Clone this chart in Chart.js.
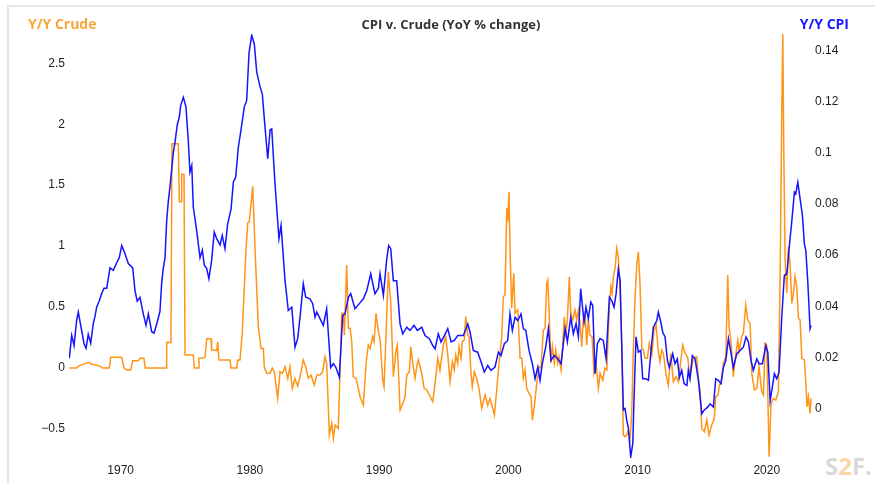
<!DOCTYPE html>
<html>
<head>
<meta charset="utf-8">
<script src="https://cdn.jsdelivr.net/npm/chart.js@4"></script>
<style>
    body { margin: 0; background: #fff; }
    canvas { display: block; }
</style>
</head>
<body>
<canvas id="cpi-crude-chart" width="875" height="484"></canvas>
<script>
// Y/Y CPI (right axis) - [year, change]
const cpiData = [
    [1966.02,0.0196],[1966.21,0.0286],[1966.39,0.0246],[1966.59,0.0344],[1966.72,0.0377],[1967.16,0.0254],[1967.32,0.0235],[1967.49,0.029],[1967.68,0.0255],[1967.88,0.0333],
    [1968.01,0.036],[1968.14,0.0396],[1968.34,0.042],[1968.53,0.045],[1968.71,0.047],[1968.92,0.047],[1969.17,0.055],[1969.43,0.054],[1969.69,0.057],[1969.89,0.059],
    [1970.08,0.0637],[1970.33,0.0606],[1970.59,0.0567],[1970.93,0.055],[1971.11,0.046],[1971.28,0.042],[1971.49,0.0435],[1971.75,0.037],[1971.96,0.0325],[1972.14,0.037],
    [1972.40,0.030],[1972.58,0.0295],[1972.83,0.0338],[1973.04,0.038],[1973.17,0.049],[1973.30,0.055],[1973.43,0.059],[1973.56,0.0735],[1973.68,0.0807],[1973.82,0.087],
    [1974.07,0.100],[1974.20,0.104],[1974.38,0.111],[1974.54,0.114],[1974.64,0.1185],[1974.85,0.1217],[1975.05,0.118],[1975.23,0.105],[1975.36,0.0924],[1975.50,0.095],
    [1975.62,0.0787],[1975.88,0.0696],[1976.14,0.059],[1976.32,0.062],[1976.47,0.056],[1976.66,0.0547],[1976.83,0.0507],[1977.04,0.058],[1977.24,0.069],[1977.43,0.0664],
    [1977.69,0.064],[1977.86,0.0677],[1978.07,0.0625],[1978.28,0.0722],[1978.54,0.078],[1978.72,0.0885],[1978.90,0.0905],[1979.10,0.102],[1979.31,0.109],[1979.57,0.118],
    [1979.75,0.1205],[1979.93,0.139],[1980.14,0.146],[1980.34,0.1426],[1980.53,0.1315],[1980.78,0.126],[1980.96,0.123],[1981.17,0.11],[1981.38,0.0977],[1981.56,0.109],
    [1981.69,0.1094],[1981.94,0.088],[1982.25,0.0664],[1982.41,0.0716],[1982.72,0.050],[1982.97,0.0383],[1983.24,0.0396],[1983.49,0.024],[1983.70,0.0273],[1983.88,0.0357],
    [1984.13,0.0488],[1984.32,0.0435],[1984.65,0.0429],[1984.86,0.041],[1985.04,0.0357],[1985.17,0.0377],[1985.37,0.0357],[1985.68,0.0325],[1985.94,0.039],[1986.25,0.016],
    [1986.46,0.0175],[1986.66,0.016],[1986.92,0.0122],[1987.18,0.0364],[1987.36,0.037],[1987.62,0.0435],[1987.80,0.0449],[1988.13,0.039],[1988.47,0.041],[1988.78,0.0429],
    [1989.04,0.046],[1989.35,0.0527],[1989.68,0.0449],[1989.94,0.047],[1990.07,0.0527],[1990.33,0.0442],[1990.59,0.0585],[1990.74,0.0637],[1990.90,0.0625],[1991.10,0.050],
    [1991.36,0.050],[1991.62,0.0331],[1991.83,0.0292],[1992.14,0.0318],[1992.39,0.0305],[1992.70,0.0325],[1992.96,0.0305],[1993.30,0.0318],[1993.55,0.0285],[1993.89,0.0273],
    [1994.15,0.0246],[1994.33,0.0233],[1994.58,0.0292],[1994.79,0.026],[1995.05,0.0285],[1995.31,0.0312],[1995.57,0.026],[1995.82,0.0266],[1996.08,0.0285],[1996.52,0.0285],
    [1996.86,0.0331],[1997.04,0.0298],[1997.29,0.0227],[1997.63,0.022],[1997.94,0.0175],[1998.14,0.0142],[1998.41,0.0168],[1998.66,0.0149],[1998.97,0.0162],[1999.23,0.022],
    [1999.43,0.0207],[1999.69,0.0253],[1999.95,0.0266],[2000.13,0.037],[2000.31,0.0305],[2000.52,0.0357],[2000.73,0.0344],[2000.98,0.037],[2001.16,0.0312],[2001.35,0.0305],
    [2001.60,0.0227],[2001.86,0.0175],[2002.07,0.0116],[2002.28,0.0162],[2002.45,0.011],[2002.63,0.0175],[2002.89,0.024],[2003.10,0.0312],[2003.30,0.0188],[2003.56,0.0207],
    [2003.82,0.0194],[2004.08,0.0175],[2004.39,0.0312],[2004.57,0.026],[2004.83,0.0357],[2005.03,0.0292],[2005.24,0.0331],[2005.42,0.028],[2005.60,0.0468],[2005.86,0.0338],
    [2006.01,0.0396],[2006.19,0.0351],[2006.38,0.0416],[2006.53,0.0403],[2006.71,0.0136],[2006.89,0.0253],[2007.10,0.0273],[2007.35,0.0266],[2007.56,0.0194],[2007.82,0.0435],
    [2008.00,0.0422],[2008.18,0.0396],[2008.34,0.0449],[2008.51,0.0546],[2008.65,0.050],[2008.78,0.024],[2008.90,-0.0006],[2009.03,0.0],[2009.16,-0.0045],[2009.29,-0.0078],
    [2009.47,-0.019],[2009.63,-0.0138],[2009.73,0.0044],[2009.88,0.028],[2010.06,0.022],[2010.25,0.0227],[2010.40,0.0116],[2010.66,0.0116],[2010.84,0.011],[2011.02,0.0214],
    [2011.22,0.0318],[2011.49,0.0344],[2011.61,0.0377],[2011.80,0.0338],[2011.95,0.0298],[2012.13,0.028],[2012.31,0.0188],[2012.46,0.016],[2012.72,0.0214],[2012.90,0.0175],
    [2013.08,0.0194],[2013.24,0.0122],[2013.42,0.0149],[2013.60,0.0097],[2013.82,0.009],[2013.93,0.0149],[2014.06,0.0116],[2014.24,0.0207],[2014.45,0.0194],[2014.71,0.011],
    [2014.97,-0.0021],[2015.17,-0.0006],[2015.43,0.0005],[2015.61,0.0018],[2015.87,0.0005],[2016.05,0.0116],[2016.25,0.011],[2016.46,0.0097],[2016.64,0.016],[2016.83,0.0188],
    [2017.03,0.0273],[2017.24,0.0214],[2017.41,0.016],[2017.68,0.0214],[2017.93,0.0227],[2018.19,0.024],[2018.40,0.028],[2018.58,0.026],[2018.78,0.0188],[2018.96,0.0149],
    [2019.23,0.0194],[2019.40,0.0175],[2019.66,0.0175],[2019.92,0.0246],[2020.08,0.022],[2020.26,0.003],[2020.43,0.0083],[2020.59,0.0136],[2020.77,0.0116],[2020.95,0.0142],
    [2021.16,0.0357],[2021.36,0.052],[2021.55,0.0527],[2021.80,0.0664],[2021.94,0.0735],[2022.14,0.0846],[2022.24,0.084],[2022.40,0.0885],[2022.58,0.082],[2022.76,0.0755],
    [2022.91,0.0644],[2023.02,0.0618],[2023.17,0.050],[2023.27,0.0396],[2023.35,0.0312],[2023.43,0.0325]
];

// Y/Y Crude (left axis) - [year, change]
const crudeData = [
    [1966.02,0],[1966.59,0],[1966.72,0.016],[1967.06,0.03],[1967.57,0.047],[1967.68,0.033],[1968.09,0.025],[1968.40,0.016],[1968.61,0],[1969.12,0],
    [1969.23,0.088],[1970.08,0.088],[1970.26,0],[1970.46,-0.016],[1970.77,-0.016],[1970.93,0.06],[1971.36,0.06],[1971.49,0.08],[1971.80,0.08],[1971.90,0],
    [1973.51,0],[1973.56,0.21],[1973.89,0.21],[1973.97,1.84],[1974.46,1.84],[1974.54,1.364],[1974.67,1.364],[1974.72,1.59],[1974.90,1.59],[1974.98,0.107],
    [1975.62,0.107],[1975.70,0],[1976.01,0],[1976.06,0.08],[1976.52,0.085],[1976.66,0.24],[1976.99,0.24],[1977.04,0.148],[1977.43,0.145],[1977.51,0.216],
    [1977.61,0.066],[1978.46,0.066],[1978.54,0],[1978.98,0],[1979.06,0.066],[1979.23,0.066],[1979.41,0.285],[1979.67,0.913],[1979.83,1.19],[1979.95,1.2],
    [1980.22,1.49],[1980.39,0.995],[1980.65,0.34],[1980.86,0.16],[1981.04,0.16],[1981.11,0.01],[1981.30,-0.043],[1981.56,-0.043],[1981.73,0],[1981.89,-0.03],
    [1982.15,-0.25],[1982.33,-0.03],[1982.51,-0.043],[1982.72,0.01],[1982.93,-0.085],[1983.10,0.01],[1983.28,-0.167],[1983.49,-0.085],[1983.70,-0.148],[1983.88,-0.071],
    [1984.13,0.066],[1984.32,0.01],[1984.52,-0.085],[1984.73,-0.057],[1984.98,-0.14],[1985.17,-0.057],[1985.43,-0.057],[1985.63,-0.03],[1985.81,0.093],[1985.94,0.039],
    [1986.15,-0.55],[1986.33,-0.454],[1986.46,-0.577],[1986.59,-0.468],[1986.84,-0.495],[1987.11,0.449],[1987.23,0.449],[1987.31,0.27],[1987.49,0.845],[1987.62,0.326],
    [1987.75,0.326],[1987.88,0.216],[1988.00,-0.071],[1988.21,-0.085],[1988.39,-0.167],[1988.52,-0.236],[1988.78,-0.304],[1988.99,0.039],[1989.16,0.189],[1989.30,0.16],
    [1989.50,0.257],[1989.61,0.216],[1989.76,0.449],[1989.94,0.298],[1990.07,0.243],[1990.28,-0.098],[1990.38,-0.153],[1990.53,0.257],[1990.71,0.79],[1990.90,0.53],
    [1991.10,-0.071],[1991.31,0.148],[1991.41,0.189],[1991.62,-0.345],[1991.83,-0.29],[1992.00,-0.236],[1992.14,-0.057],[1992.34,-0.03],[1992.45,0.175],[1992.60,0.039],
    [1992.78,-0.085],[1992.91,0.01],[1993.03,0.066],[1993.30,-0.043],[1993.48,-0.167],[1993.68,-0.18],[1993.89,-0.222],[1994.15,-0.276],[1994.33,-0.126],[1994.54,0.08],
    [1994.71,-0.016],[1994.97,0.189],[1995.15,0.257],[1995.31,0.107],[1995.49,-0.112],[1995.67,0.052],[1995.82,-0.016],[1995.93,0.107],[1996.08,0.039],[1996.18,0.175],
    [1996.34,0.08],[1996.44,0.216],[1996.59,0.23],[1996.70,0.421],[1996.86,0.27],[1996.96,0.257],[1997.11,-0.043],[1997.21,-0.153],[1997.37,-0.03],[1997.55,-0.085],
    [1997.73,-0.167],[1997.94,-0.33],[1998.20,-0.222],[1998.41,-0.304],[1998.58,-0.25],[1998.76,-0.317],[1998.92,-0.386],[1999.10,-0.18],[1999.28,0.039],[1999.49,0.257],
    [1999.61,0.585],[1999.74,0.6],[1999.88,1.31],[1999.95,1.2],[2000.05,1.446],[2000.15,0.886],[2000.26,0.49],[2000.42,0.777],[2000.52,0.449],[2000.73,0.476],
    [2000.91,0.08],[2001.04,0.08],[2001.16,-0.085],[2001.29,-0.016],[2001.42,-0.167],[2001.60,-0.208],[2001.76,-0.236],[2001.86,-0.427],[2002.01,-0.317],[2002.20,-0.126],
    [2002.38,0.01],[2002.53,0],[2002.71,0.312],[2002.84,0.326],[2002.97,0.695],[2003.05,0.722],[2003.15,0.476],[2003.30,0.039],[2003.41,0.175],[2003.56,0.039],
    [2003.67,0.148],[2003.82,0.039],[2003.92,0.093],[2004.08,-0.016],[2004.21,0.203],[2004.33,0.421],[2004.46,0.285],[2004.57,0.394],[2004.72,0.749],[2004.83,0.449],
    [2004.98,0.394],[2005.16,0.476],[2005.29,0.394],[2005.42,0.476],[2005.55,0.367],[2005.68,0.175],[2005.80,0.394],[2005.94,0.449],[2006.07,0.189],[2006.19,0.394],
    [2006.32,0.27],[2006.48,0.257],[2006.63,-0.043],[2006.79,0.039],[2006.97,-0.167],[2007.10,-0.043],[2007.31,-0.098],[2007.48,0],[2007.62,-0.016],[2007.82,0.503],
    [2007.93,0.667],[2008.03,0.613],[2008.13,0.749],[2008.26,0.818],[2008.39,0.982],[2008.51,0.913],[2008.65,0.64],[2008.78,0.175],[2008.90,-0.55],[2009.03,-0.563],
    [2009.16,-0.55],[2009.29,-0.509],[2009.42,-0.577],[2009.55,-0.372],[2009.67,0.148],[2009.81,0.585],[2009.94,0.845],[2010.06,0.954],[2010.19,0.695],[2010.33,0.162],
    [2010.45,0.148],[2010.58,0.08],[2010.76,0.08],[2010.91,0.203],[2011.10,0.107],[2011.28,0.312],[2011.43,0.353],[2011.61,0.134],[2011.74,0.052],[2011.87,0.148],
    [2012.00,0.12],[2012.21,-0.057],[2012.38,-0.14],[2012.57,0.12],[2012.77,-0.112],[2012.98,-0.071],[2013.16,-0.112],[2013.34,0.052],[2013.50,0.189],[2013.68,0.12],
    [2013.87,0.093],[2014.06,-0.071],[2014.32,0.08],[2014.58,0.093],[2014.71,-0.098],[2014.84,-0.18],[2014.97,-0.495],[2015.17,-0.522],[2015.36,-0.427],[2015.53,-0.55],
    [2015.74,-0.468],[2015.94,-0.413],[2016.05,-0.236],[2016.23,-0.222],[2016.33,-0.14],[2016.46,-0.126],[2016.64,0.039],[2016.83,0.093],[2016.98,0.763],[2017.08,0.339],
    [2017.24,0.203],[2017.41,-0.071],[2017.55,0.066],[2017.76,0.23],[2017.86,0.134],[2018.06,0.257],[2018.19,0.285],[2018.37,0.517],[2018.53,0.394],[2018.71,0.367],
    [2018.84,-0.043],[2019.04,-0.18],[2019.23,-0.167],[2019.40,0.01],[2019.61,-0.194],[2019.74,-0.222],[2019.87,0.203],[2020.00,0.189],[2020.18,-0.728],[2020.33,-0.29],
    [2020.51,-0.25],[2020.70,-0.263],[2020.90,-0.194],[2021.03,0.722],[2021.16,2.09],[2021.24,2.74],[2021.32,1.76],[2021.42,0.886],[2021.55,0.613],[2021.67,0.995],
    [2021.80,0.859],[2021.94,0.53],[2022.06,0.613],[2022.19,0.749],[2022.32,0.667],[2022.45,0.408],[2022.58,0.394],[2022.71,0.08],[2022.91,0.066],[2023.02,-0.112],
    [2023.12,-0.317],[2023.22,-0.236],[2023.35,-0.372],[2023.43,-0.249]
];

function toPoints(rows) {
    return rows.map(r => ({ x: r[0], y: r[1] }));
}

function fmtTick(value) {
    const v = parseFloat(value.toFixed(2));
    return v < 0 ? '\u2212' + Math.abs(v) : String(v);
}

// Titles, frame and logo drawn straight on the canvas
const decorPlugin = {
    id: 'decor',
    beforeDraw(chart) {
        const ctx = chart.ctx;
        ctx.save();
        ctx.fillStyle = '#e6e6e6';
        ctx.fillRect(7, 5, 868, 2);
        ctx.fillRect(7, 5, 2, 479);
        ctx.restore();
    },
    afterDraw(chart) {
        const ctx = chart.ctx;
        ctx.save();
        ctx.textBaseline = 'middle';

        ctx.font = 'bold 14px "Open Sans"';
        ctx.textAlign = 'left';
        ctx.fillStyle = '#f9a43c';
        ctx.fillText('Y/Y Crude', 28, 25);

        ctx.textAlign = 'right';
        ctx.fillStyle = '#1a1aff';
        ctx.fillText('Y/Y CPI', 849, 25);

        ctx.font = 'bold 13px "Open Sans"';
        ctx.textAlign = 'center';
        ctx.fillStyle = '#333333';
        ctx.fillText('CPI v. Crude (YoY % change)', 451, 25);

        // S2F logo
        ctx.font = 'bold 24px "Open Sans"';
        ctx.textAlign = 'left';
        ctx.textBaseline = 'alphabetic';
        let x = 825;
        [['S', '#d9d9d9'], ['2', '#f7d7a6'], ['F', '#d9d9d9'], ['.', '#d9d9d9']].forEach(([t, c]) => {
            ctx.fillStyle = c;
            ctx.fillText(t, x, 475);
            x += ctx.measureText(t).width;
        });
        ctx.restore();
    }
};

Chart.defaults.font.family = '"Liberation Sans", Arial, sans-serif';
Chart.defaults.font.size = 12;
Chart.defaults.color = '#222';

function initCpiCrudeChart() {
    const ctx = document.getElementById('cpi-crude-chart').getContext('2d');
    new Chart(ctx, {
        type: 'line',
        data: {
            datasets: [{
                label: 'Y/Y CPI',
                data: toPoints(cpiData),
                yAxisID: 'yCpi',
                borderColor: '#1414ff',
                borderWidth: 1.5,
                order: 0
            }, {
                label: 'Y/Y Crude',
                data: toPoints(crudeData),
                yAxisID: 'yCrude',
                borderColor: '#ff9416',
                borderWidth: 1.5,
                order: 1
            }]
        },
        options: {
            responsive: false,
            animation: false,
            devicePixelRatio: 1,
            layout: { padding: { top: 34, left: 0, right: 0, bottom: 0 } },
            elements: {
                point: { radius: 0 },
                line: { tension: 0 }
            },
            plugins: {
                legend: { display: false },
                tooltip: { enabled: false }
            },
            scales: {
                x: {
                    type: 'linear',
                    min: 1966,
                    max: 2023.5,
                    grid: { display: false, drawTicks: false },
                    border: { display: false },
                    afterBuildTicks: s => {
                        s.ticks = [1970, 1980, 1990, 2000, 2010, 2020].map(v => ({ value: v }));
                    },
                    afterFit: s => { s.height = 26; },
                    ticks: { padding: 5, maxRotation: 0, autoSkip: false, callback: v => String(v) }
                },
                yCrude: {
                    position: 'left',
                    min: -0.738,
                    max: 2.74,
                    grid: { display: false, drawTicks: false },
                    border: { display: false },
                    afterFit: s => { s.width = 69; },
                    ticks: { stepSize: 0.5, includeBounds: false, padding: 4, callback: fmtTick }
                },
                yCpi: {
                    position: 'right',
                    min: -0.0194,
                    max: 0.1465,
                    grid: { display: false, drawTicks: false },
                    border: { display: false },
                    afterFit: s => { s.width = 63; },
                    ticks: { stepSize: 0.02, includeBounds: false, padding: 3, callback: fmtTick }
                }
            }
        },
        plugins: [decorPlugin]
    });
}

initCpiCrudeChart();
</script>
</body>
</html>
